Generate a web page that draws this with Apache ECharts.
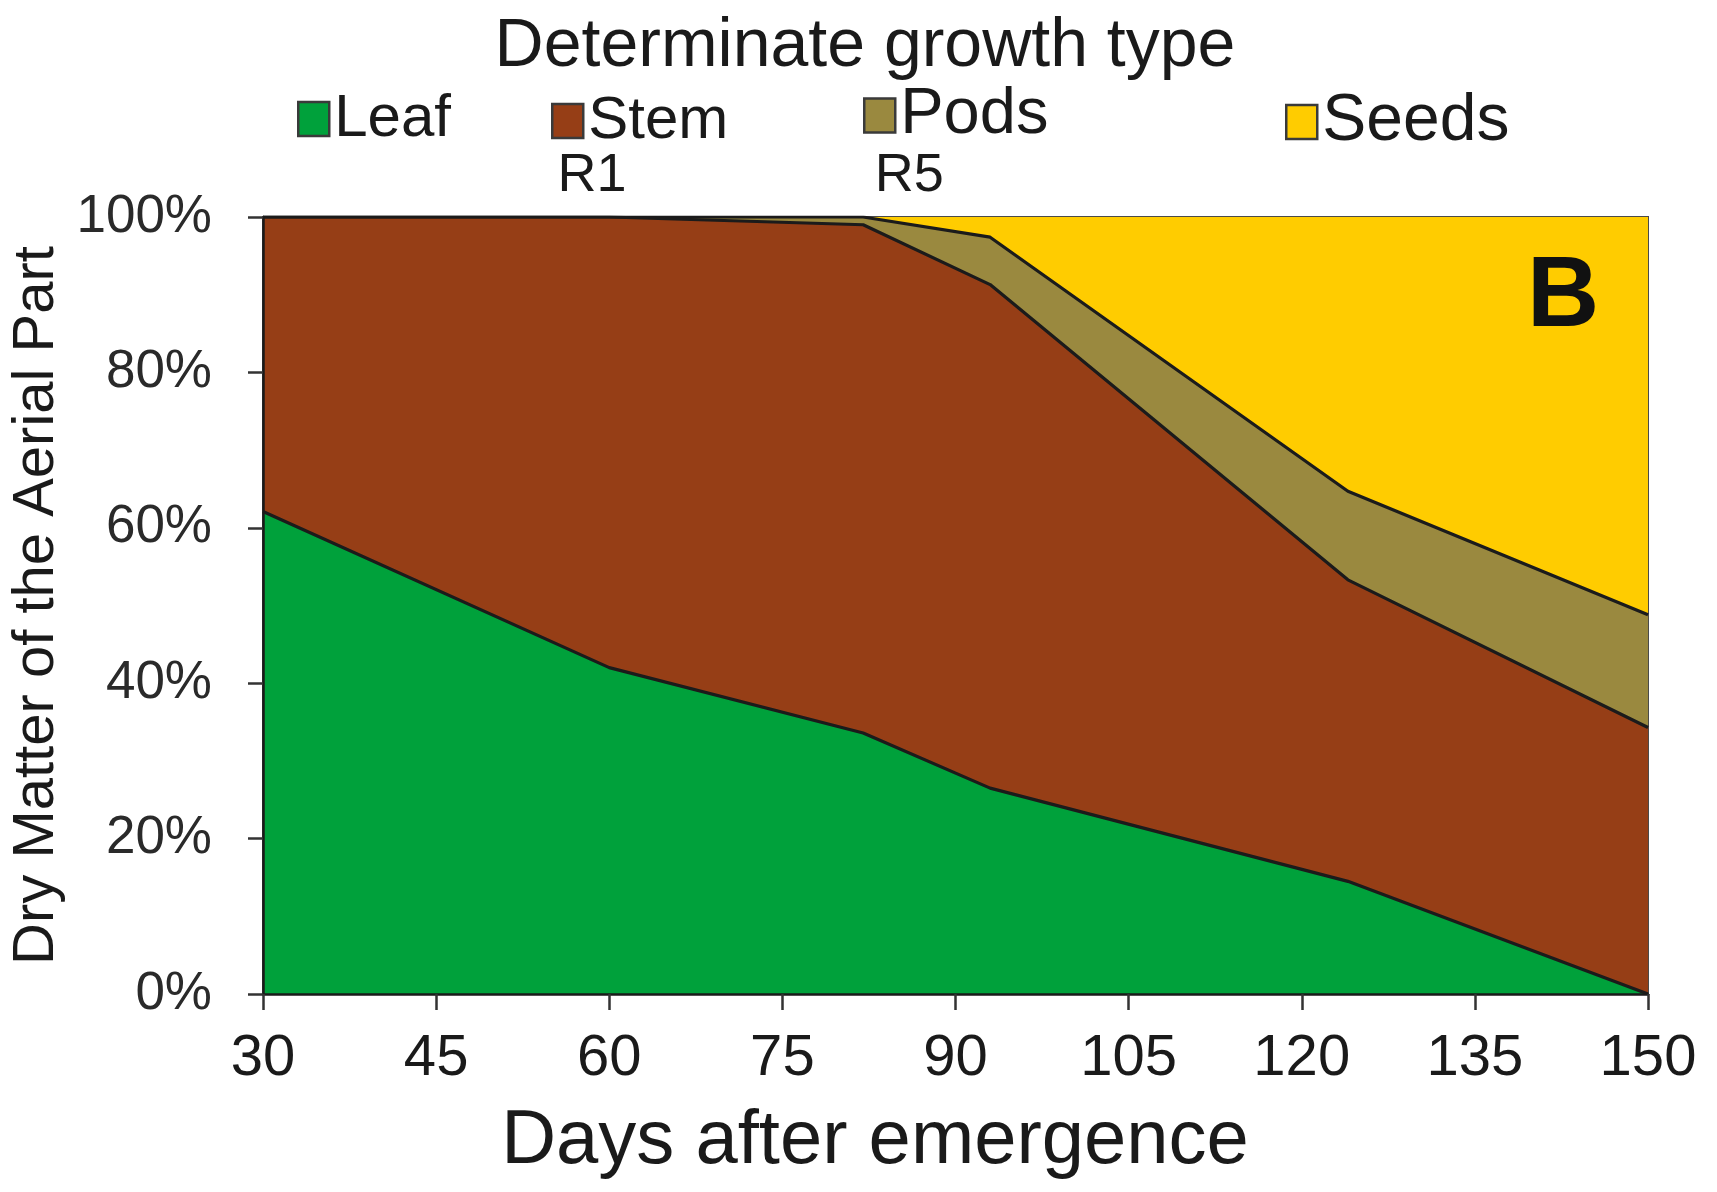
<!DOCTYPE html>
<html>
<head>
<meta charset="utf-8">
<title>Determinate growth type</title>
<script src="https://cdn.jsdelivr.net/npm/echarts@6/dist/echarts.min.js"></script>
<style>
  html, body { margin: 0; padding: 0; background: #ffffff; }
  #chart { width: 1717px; height: 1192px; }
</style>
</head>
<body>
<div id="chart"></div>
<script>
// Sampling days (days after emergence)
const days = [30, 60, 82, 93, 124, 150];

// Share of aerial dry matter per organ, in percent
const leaf  = [62.1, 42.0, 33.6, 26.5, 14.5, 0.0];
const stem  = [37.9, 58.0, 65.4, 64.8, 38.8, 34.3];
const pods  = [0.0,  0.0,  1.0,  6.1,  11.4, 14.5];
const seeds = [0.0,  0.0,  0.0,  2.6,  35.3, 51.2];

const xTicks = { min: 30, max: 150, step: 15 };
const yTicks = { min: 0, max: 100, step: 20 };

// Reproductive stage markers
const stages = [
  { name: 'R1', day: 58.5 },
  { name: 'R5', day: 86 }
];

const organNames = ['Leaf', 'Stem', 'Pods', 'Seeds'];
const organValues = [leaf, stem, pods, seeds];
const organColors = ['#00A13B', '#963E16', '#9A893F', '#FFCC00'];

const sans = '"Liberation Sans", Arial, Helvetica, sans-serif';

// Running totals: the top edge of each band
const cumulative = organValues.map((_, k) =>
  days.map((d, i) => {
    let s = 0;
    for (let j = 0; j <= k; j++) s += organValues[j][i];
    return [d, Math.round(s * 10) / 10];
  })
);

// Bands are painted from the top one down, each filled to 0%,
// so every lower band covers the part of the one above it.
const series = [];
for (let k = organNames.length - 1; k >= 0; k--) {
  const name = organNames[k];
  const s = {
    name: name,
    type: 'line',
    symbol: 'none',
    data: cumulative[k],
    itemStyle: { color: organColors[k] },
    lineStyle: { color: '#1b1b1b', width: name === 'Seeds' ? 0 : 3.2 },
    areaStyle: { color: organColors[k], opacity: 1, origin: 'start' },
    silent: true
  };
  if (name === 'Seeds') {
    s.markPoint = {
      symbol: 'circle',
      symbolSize: 0,
      data: stages.map(st => ({ name: st.name, coord: [st.day, 100] })),
      label: {
        show: true,
        position: 'top',
        distance: 14,
        formatter: p => p.name,
        fontFamily: sans,
        fontSize: 54,
        color: '#1a1a1a'
      }
    };
  }
  series.push(s);
}

const legendPos = [
  { name: 'Leaf',  left: 292,  top: 84, size: 60 },
  { name: 'Stem',  left: 546,  top: 86, size: 60 },
  { name: 'Pods',  left: 858,  top: 78, size: 65 },
  { name: 'Seeds', left: 1280, top: 84, size: 66 }
];

const option = {
  backgroundColor: '#ffffff',
  animation: false,
  title: {
    text: 'Determinate growth type',
    left: 860,
    top: 8,
    textAlign: 'center',
    textStyle: { fontFamily: sans, fontWeight: 'normal', fontSize: 68, color: '#1a1a1a' }
  },
  legend: legendPos.map(l => ({
    data: [l.name],
    left: l.left,
    top: l.top,
    icon: 'rect',
    itemWidth: 31,
    itemHeight: 34,
    itemGap: 12,
    selectedMode: false,
    itemStyle: { borderColor: '#3a3a3a', borderWidth: 2.5 },
    textStyle: { fontFamily: sans, fontSize: l.size, color: '#1a1a1a' }
  })),
  grid: {
    left: 263,
    right: 69,
    top: 217,
    bottom: 198,
    outerBoundsMode: 'none',
    containLabel: false,
    show: true,
    borderColor: '#4a4a4a',
    borderWidth: 2,
    backgroundColor: 'transparent'
  },
  xAxis: {
    type: 'value',
    min: xTicks.min,
    max: xTicks.max,
    interval: xTicks.step,
    z: 5,
    axisLine: { show: true, onZero: false, lineStyle: { color: '#1a1a1a', width: 2.5 } },
    axisTick: { show: true, inside: false, length: 16, lineStyle: { color: '#333', width: 2.5 } },
    axisLabel: { margin: 36, fontFamily: sans, fontSize: 58, color: '#1a1a1a' },
    splitLine: { show: false }
  },
  yAxis: {
    type: 'value',
    min: yTicks.min,
    max: yTicks.max,
    interval: yTicks.step,
    z: 5,
    name: 'Dry Matter of the Aerial Part',
    nameLocation: 'middle',
    nameGap: 190,
    nameTextStyle: { fontFamily: sans, fontSize: 58, color: '#1a1a1a' },
    axisLine: { show: true, lineStyle: { color: '#1a1a1a', width: 2.5 } },
    axisTick: { show: true, inside: false, length: 15, lineStyle: { color: '#333', width: 2.5 } },
    axisLabel: { margin: 51, fontFamily: sans, fontSize: 53, color: '#2a2a2a', formatter: '{value}%' },
    splitLine: { show: false }
  },
  graphic: [
    {
      type: 'text',
      left: 1527,
      top: 248,
      z: 10,
      style: { text: 'B', fontFamily: sans, fontWeight: 'bold', fontSize: 100, fill: '#111' }
    },
    {
      type: 'text',
      x: 875,
      y: 1104,
      z: 10,
      style: {
        text: 'Days after emergence',
        fontFamily: sans,
        fontSize: 76,
        fill: '#1a1a1a',
        align: 'center',
        verticalAlign: 'top'
      }
    }
  ],
  series: series
};

const chart = echarts.init(document.getElementById('chart'), null, { renderer: 'canvas' });
chart.setOption(option);
</script>
</body>
</html>
